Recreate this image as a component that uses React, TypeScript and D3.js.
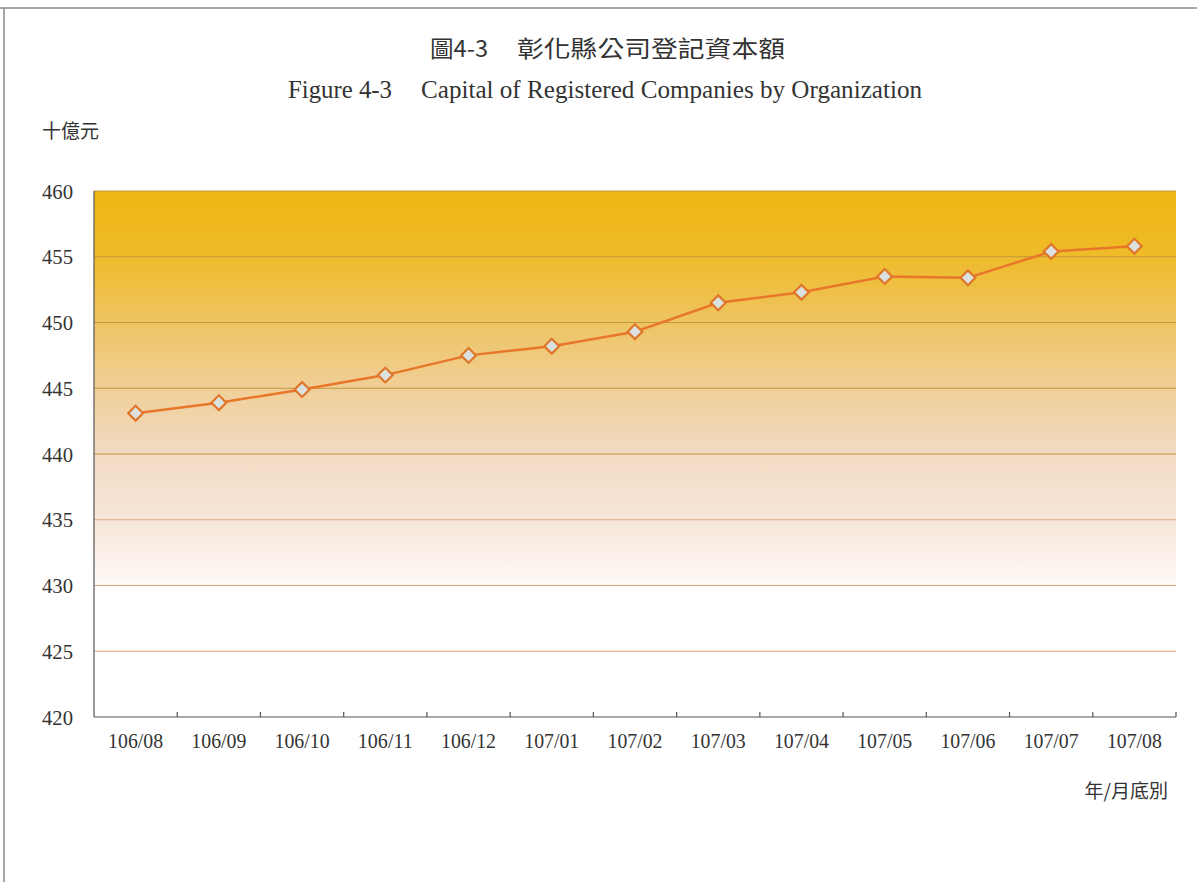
import React, { useEffect, useRef } from 'react';
import * as d3 from 'd3';

const months = ['106/08', '106/09', '106/10', '106/11', '106/12', '107/01', '107/02', '107/03', '107/04', '107/05', '107/06', '107/07', '107/08'];
const capital = [443.1, 443.9, 444.9, 446.0, 447.5, 448.2, 449.3, 451.5, 452.3, 453.5, 453.4, 455.4, 455.8];
const yTicks = [420, 425, 430, 435, 440, 445, 450, 455, 460];

const App = () => {
  const ref = useRef<SVGSVGElement | null>(null);

  useEffect(() => {
    const width = 1197;
    const height = 882;
    const left = 94, right = 1176, top = 191, bottom = 717;

    const svg = d3.select(ref.current);
    svg.selectAll('*').remove();
    svg.attr('width', width).attr('height', height);

    svg.append('rect').attr('width', width).attr('height', height).attr('fill', '#ffffff');

    // page frame
    svg.append('line').attr('x1', 0).attr('x2', width).attr('y1', 8).attr('y2', 8)
      .attr('stroke', '#8a8a8a').attr('stroke-width', 1.5);
    svg.append('line').attr('x1', 4).attr('x2', 4).attr('y1', 8).attr('y2', height)
      .attr('stroke', '#8a8a8a').attr('stroke-width', 1.5);

    const x = d3.scaleBand().domain(months).range([left, right]);
    const y = d3.scaleLinear().domain([420, 460]).range([bottom, top]);

    const defs = svg.append('defs');
    const grad = defs.append('linearGradient').attr('id', 'bg').attr('x1', 0).attr('x2', 0).attr('y1', 0).attr('y2', 1);
    const stops: [number, string][] = [
      [0, '#efb714'], [0.12, '#efbb28'], [0.25, '#eec462'], [0.375, '#f0cf98'],
      [0.5, '#f2dbc3'], [0.62, '#f6e5d8'], [0.7, '#fbf1ea'], [0.77, '#ffffff'], [1, '#ffffff']
    ];
    stops.forEach(([o, c]) => grad.append('stop').attr('offset', o).attr('stop-color', c));

    svg.append('rect').attr('x', left).attr('y', top).attr('width', right - left).attr('height', bottom - top)
      .attr('fill', 'url(#bg)');

    // gridlines
    svg.append('g').selectAll('line').data(yTicks.filter(d => d > 420)).join('line')
      .attr('x1', left).attr('x2', right)
      .attr('y1', d => y(d)).attr('y2', d => y(d))
      .attr('stroke', d => (d >= 440 ? '#c2963e' : '#e2a383'))
      .attr('stroke-width', 1.2);

    // axes
    svg.append('line').attr('x1', left).attr('x2', left).attr('y1', top).attr('y2', bottom)
      .attr('stroke', '#555').attr('stroke-width', 1.2);
    svg.append('line').attr('x1', left).attr('x2', right).attr('y1', bottom).attr('y2', bottom)
      .attr('stroke', '#555').attr('stroke-width', 1.2);
    svg.append('g').selectAll('line').data(months).join('line')
      .attr('x1', d => (x(d) as number) + x.bandwidth()).attr('x2', d => (x(d) as number) + x.bandwidth())
      .attr('y1', bottom).attr('y2', bottom - 5)
      .attr('stroke', '#555').attr('stroke-width', 1.2);

    const serif = '"Liberation Serif", "DejaVu Serif", serif';
    const cjk = '"Noto Sans CJK TC", "Noto Sans CJK SC", sans-serif';

    // condensed look: larger glyphs squeezed to the reference widths
    svg.append('g').selectAll('text').data(yTicks).join('text')
      .attr('x', 42).attr('y', d => y(d) + 7.5)
      .attr('font-family', serif).attr('font-size', 22).attr('fill', '#333')
      .attr('textLength', 31).attr('lengthAdjust', 'spacingAndGlyphs')
      .text(d => d);

    svg.append('g').selectAll('text').data(months).join('text')
      .attr('x', d => (x(d) as number) + x.bandwidth() / 2 - 27.5).attr('y', 748)
      .attr('font-family', serif).attr('font-size', 22).attr('fill', '#333')
      .attr('textLength', 55).attr('lengthAdjust', 'spacingAndGlyphs')
      .text(d => d);

    // line + markers
    const line = d3.line<number>()
      .x((_, i) => (x(months[i]) as number) + x.bandwidth() / 2)
      .y(d => y(d));
    svg.append('path').datum(capital).attr('d', line).attr('fill', 'none')
      .attr('stroke', '#e8772a').attr('stroke-width', 2.5);

    const diamond = d3.symbol().type(d3.symbolSquare).size(110);
    svg.append('g').selectAll('path').data(capital).join('path')
      .attr('d', diamond)
      .attr('transform', (d, i) => `translate(${(x(months[i]) as number) + x.bandwidth() / 2},${y(d)}) rotate(45)`)
      .attr('fill', '#dbe1de').attr('stroke', '#e0762a').attr('stroke-width', 2.2);

    // titles
    svg.append('text').attr('x', 430).attr('y', 57).attr('font-family', cjk).attr('font-size', 23)
      .attr('fill', '#333').text('圖4-3')
      .attr('textLength', 58).attr('lengthAdjust', 'spacingAndGlyphs');
    svg.append('text').attr('x', 517).attr('y', 57).attr('font-family', cjk).attr('font-size', 23)
      .attr('fill', '#333').text('彰化縣公司登記資本額')
      .attr('textLength', 268).attr('lengthAdjust', 'spacingAndGlyphs');
    svg.append('text').attr('x', 288).attr('y', 98).attr('font-family', serif).attr('font-size', 26)
      .attr('fill', '#333').text('Figure 4-3')
      .attr('textLength', 104).attr('lengthAdjust', 'spacingAndGlyphs');
    svg.append('text').attr('x', 421).attr('y', 98).attr('font-family', serif).attr('font-size', 26)
      .attr('fill', '#333').text('Capital of Registered Companies by Organization')
      .attr('textLength', 501).attr('lengthAdjust', 'spacingAndGlyphs');

    svg.append('text').attr('x', 42).attr('y', 138).attr('font-family', cjk).attr('font-size', 19)
      .attr('fill', '#333').text('十億元');
    svg.append('text').attr('x', 1168).attr('y', 798).attr('text-anchor', 'end').attr('font-family', cjk)
      .attr('font-size', 19).attr('fill', '#333').text('年/月底別');
  }, []);

  return <svg ref={ref} style={{ position: 'absolute', left: 0, top: 0 }} />;
};

export default App;
